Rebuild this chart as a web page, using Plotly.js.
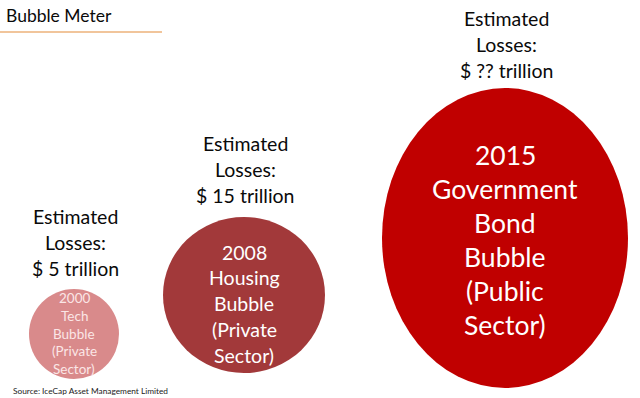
<!DOCTYPE html>
<html>
<head>
<meta charset="utf-8">
<script src="https://cdn.plot.ly/plotly-3.0.1.min.js"></script>
<style>html,body{margin:0;padding:0;background:#fff;}#chart{width:640px;height:398px;}</style>
</head>
<body>
<div id="chart"></div>
<script>
// ---- data ----
const bubbleNames = [
  ["2000", "Tech", "Bubble", "(Private", "Sector)"],
  ["2008", "Housing", "Bubble", "(Private", "Sector)"],
  ["2015", "Government", "Bond", "Bubble", "(Public", "Sector)"]
];
const lossLabels = ["$ 5 trillion", "$ 15 trillion", "$ ?? trillion"];
const lossValues = [5, 15, null];
const chartTitle = "Bubble Meter";
const sourceText = "Source: IceCap Asset Management Limited";

// ---- layout (pixel-like coordinates) ----
const geom = [
  {cx: 74, cy: 334, rx: 45, ry: 45, fill: "#D98A8B", txt: "#FBE6E6", fs: 13.5, sp: 17.8, ty: 298, ly: 216},
  {cx: 244, cy: 295, rx: 81, ry: 78, fill: "#A2393A", txt: "#FFFFFF", fs: 19.5, sp: 25.8, ty: 252, ly: 143},
  {cx: 505, cy: 238, rx: 123, ry: 150, fill: "#C00000", txt: "#FFFFFF", fs: 26.5, sp: 34, ty: 155, ly: 18}
];
const FONT = "Lato, 'Open Sans', sans-serif";

const shapes = [];
const annotations = [];
geom.forEach((g, i) => {
  shapes.push({type: "circle", xref: "x", yref: "y",
    x0: g.cx - g.rx, x1: g.cx + g.rx, y0: g.cy - g.ry, y1: g.cy + g.ry,
    fillcolor: g.fill, line: {width: 0}, layer: "below"});
  const lossLines = ["Estimated", "Losses:", lossLabels[i]];
  lossLines.forEach((t, j) => annotations.push({xref: "x", yref: "y", x: g.cx + 1, y: g.ly + j * 26,
    text: t, showarrow: false, xanchor: "center", yanchor: "middle",
    font: {family: FONT, size: 19.5, color: "#0a0a0a"}}));
  bubbleNames[i].forEach((t, j) => annotations.push({xref: "x", yref: "y", x: g.cx, y: g.ty + j * g.sp,
    text: t, showarrow: false, xanchor: "center", yanchor: "middle",
    font: {family: FONT, size: g.fs, color: g.txt}}));
});
annotations.push({xref: "x", yref: "y", x: 4, y: 15, text: chartTitle, showarrow: false,
  xanchor: "left", yanchor: "middle", font: {family: FONT, size: 17.5, color: "#0a0a0a"}});
annotations.push({xref: "x", yref: "y", x: 11, y: 391, text: sourceText, showarrow: false,
  xanchor: "left", yanchor: "middle", font: {family: FONT, size: 8.3, color: "#222222"}});
shapes.push({type: "line", xref: "x", yref: "y", x0: 0, x1: 162, y0: 32, y1: 32,
  line: {color: "#EDB27A", width: 1.5}});

Plotly.newPlot("chart", [], {
  width: 640, height: 398,
  margin: {l: 0, r: 0, t: 0, b: 0},
  paper_bgcolor: "#ffffff", plot_bgcolor: "#ffffff",
  xaxis: {range: [0, 640], visible: false, fixedrange: true},
  yaxis: {range: [398, 0], visible: false, fixedrange: true},
  showlegend: false,
  shapes: shapes,
  annotations: annotations
}, {displayModeBar: false, staticPlot: true});
</script>
</body>
</html>
